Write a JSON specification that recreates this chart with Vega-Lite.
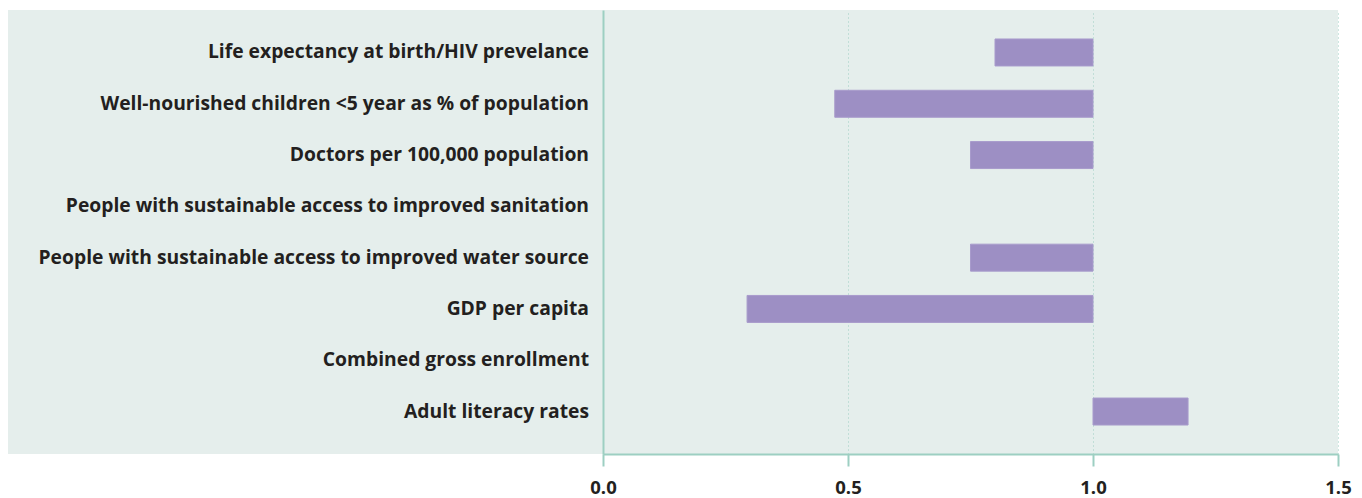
{
  "$schema": "https://vega.github.io/schema/vega-lite/v6.json",
  "padding": {"left": 8, "top": 10, "right": 4, "bottom": 4},
  "background": "white",
  "spacing": 0,
  "bounds": "flush",
  "config": {
    "view": {"stroke": null, "fill": "#e5eeec"},
    "font": "Open Sans"
  },
  "data": {
    "values": [
      {"indicator": "Life expectancy at birth/HIV prevelance", "start": 0.8, "end": 1.0},
      {"indicator": "Well-nourished children <5 year as % of population", "start": 0.473, "end": 1.0},
      {"indicator": "Doctors per 100,000 population", "start": 0.75, "end": 1.0},
      {"indicator": "People with sustainable access to improved sanitation", "start": null, "end": null},
      {"indicator": "People with sustainable access to improved water source", "start": 0.75, "end": 1.0},
      {"indicator": "GDP per capita", "start": 0.294, "end": 1.0},
      {"indicator": "Combined gross enrollment", "start": null, "end": null},
      {"indicator": "Adult literacy rates", "start": 1.0, "end": 1.194}
    ]
  },
  "hconcat": [
    {
      "width": 595,
      "height": 444,
      "mark": {"type": "text", "align": "right", "baseline": "middle", "fontWeight": "bold", "fontSize": 19.3, "color": "#231f20", "dx": -14, "font": "Open Sans"},
      "encoding": {
        "y": {
          "field": "indicator", "type": "nominal", "sort": null, "bandPosition": 0.5,
          "scale": {
            "type": "band",
            "domain": [
              "Life expectancy at birth/HIV prevelance",
              "Well-nourished children <5 year as % of population",
              "Doctors per 100,000 population",
              "People with sustainable access to improved sanitation",
              "People with sustainable access to improved water source",
              "GDP per capita",
              "Combined gross enrollment",
              "Adult literacy rates"
            ],
            "paddingInner": 0.474, "paddingOuter": 0.565
          },
          "axis": null
        },
        "x": {"datum": 1, "type": "quantitative", "scale": {"domain": [0, 1]}, "axis": null},
        "text": {"field": "indicator"}
      }
    },
    {
      "width": 735,
      "height": 444,
      "mark": {"type": "bar", "color": "#9d8fc4", "stroke": "#a89bcc", "strokeWidth": 1},
      "encoding": {
        "y": {
          "field": "indicator", "type": "nominal", "sort": null,
          "scale": {
            "domain": [
              "Life expectancy at birth/HIV prevelance",
              "Well-nourished children <5 year as % of population",
              "Doctors per 100,000 population",
              "People with sustainable access to improved sanitation",
              "People with sustainable access to improved water source",
              "GDP per capita",
              "Combined gross enrollment",
              "Adult literacy rates"
            ],
            "paddingInner": 0.474, "paddingOuter": 0.565
          },
          "axis": {
            "title": null, "labels": false, "ticks": false, "grid": false,
            "domain": true, "domainColor": "#9dcfc2", "domainWidth": 2
          }
        },
        "x": {
          "field": "start", "type": "quantitative",
          "scale": {"domain": [0, 1.5], "nice": false, "zero": false},
          "axis": {
            "title": null,
            "values": [0, 0.5, 1, 1.5],
            "format": ".1f",
            "labelFlush": false,
            "domain": true, "domainColor": "#9dcfc2", "domainWidth": 2,
            "ticks": true, "tickColor": "#9dcfc2", "tickSize": 12, "tickWidth": 2,
            "grid": true, "gridColor": "#9dcfc2", "gridDash": [1, 3], "gridWidth": 1,
            "labelFont": "Open Sans", "labelFontSize": 18.5, "labelFontWeight": "bold", "labelColor": "#231f20",
            "labelPadding": 12
          }
        },
        "x2": {"field": "end"}
      }
    }
  ]
}
